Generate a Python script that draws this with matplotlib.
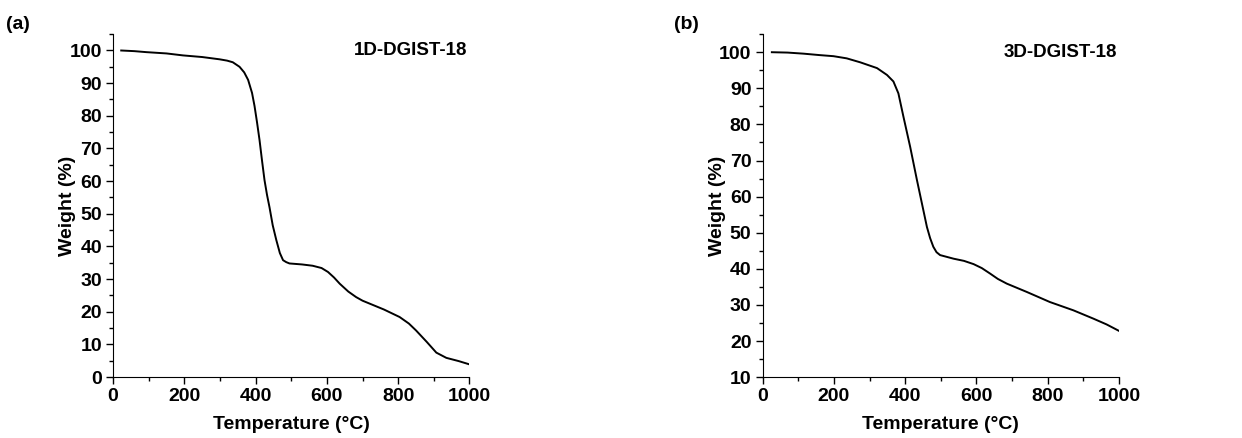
import matplotlib
matplotlib.use("Agg")
import matplotlib.pyplot as plt
from matplotlib.ticker import MultipleLocator

plt.rcParams['font.family'] = ['Liberation Sans', 'DejaVu Sans']
plt.rcParams['font.weight'] = 'bold'

# TGA curve for 1D-DGIST-18
temp_1d = [23, 60, 93, 150, 196, 250, 299, 320, 336, 355, 368, 379, 390, 397, 404, 411,
           418, 425, 432, 439, 448, 458, 468, 477, 486, 495, 530, 560, 585, 603, 620,
           636, 660, 682, 700, 720, 760, 804, 830, 850, 880, 907, 935, 970, 1000]
weight_1d = [100, 99.8, 99.5, 99.1, 98.5, 98.0, 97.3, 96.9, 96.4, 95.0, 93.3, 91.0, 87.0,
             83.0, 78.0, 72.6, 66.3, 60.3, 55.8, 52.0, 46.5, 42.0, 38.0, 35.8, 35.2, 34.8,
             34.5, 34.1, 33.4, 32.2, 30.5, 28.6, 26.2, 24.5, 23.4, 22.5, 20.7, 18.4, 16.4,
             14.3, 10.8, 7.5, 5.9, 4.9, 3.9]

# TGA curve for 3D-DGIST-18
temp_3d = [26, 70, 115, 160, 199, 236, 274, 321, 349, 367, 381, 395, 414, 433, 447, 461,
           470, 479, 488, 498, 536, 565, 592, 615, 638, 660, 685, 741, 806, 872, 928,
           965, 1000]
weight_3d = [100, 99.9, 99.6, 99.2, 98.9, 98.3, 97.2, 95.6, 93.7, 91.9, 88.6, 82.2, 73.8,
             64.6, 58.1, 51.6, 48.5, 46.1, 44.6, 43.8, 42.8, 42.2, 41.3, 40.2, 38.7, 37.2,
             35.9, 33.6, 30.8, 28.5, 26.2, 24.6, 22.8]

panels = [
    ("(a)", "1D-DGIST-18", temp_1d, weight_1d, (0, 105), [0.091, 0.139, 0.287, 0.783], 0.005),
    ("(b)", "3D-DGIST-18", temp_3d, weight_3d, (10, 105), [0.614, 0.139, 0.287, 0.783], 0.543),
]

fig = plt.figure(figsize=(12.42, 4.38), dpi=100)

for tag, name, t, w, ylim, rect, tag_x in panels:
    ax = fig.add_axes(rect)
    ax.plot(t, w, color="black", lw=1.4)
    ax.set_xlim(0, 1000)
    ax.set_ylim(*ylim)
    ax.spines["top"].set_visible(False)
    ax.spines["right"].set_visible(False)
    ax.xaxis.set_major_locator(MultipleLocator(200))
    ax.xaxis.set_minor_locator(MultipleLocator(100))
    ax.yaxis.set_major_locator(MultipleLocator(10))
    ax.yaxis.set_minor_locator(MultipleLocator(5))
    ax.tick_params(which="major", direction="out", length=5, width=1, labelsize=14, pad=3)
    ax.tick_params(which="minor", direction="out", length=3, width=1)
    for lab in ax.get_xticklabels() + ax.get_yticklabels():
        lab.set_fontweight("bold")
    ax.set_xlabel("Temperature (\u00b0C)", fontsize=14, fontweight="bold")
    ax.set_ylabel("Weight (%)", fontsize=14, fontweight="bold")
    ax.xaxis.set_label_coords(0.5, -0.113)
    ax.yaxis.set_label_coords(-0.104, 0.5)
    ax.text(0.995, (100 - ylim[0]) / (ylim[1] - ylim[0]), name,
            transform=ax.transAxes, ha="right", va="center", fontsize=13.5,
            fontweight="bold")
    fig.text(tag_x, 0.943, tag, fontsize=14, fontweight="bold", va="center")

fig.savefig("out.png", dpi=100)
